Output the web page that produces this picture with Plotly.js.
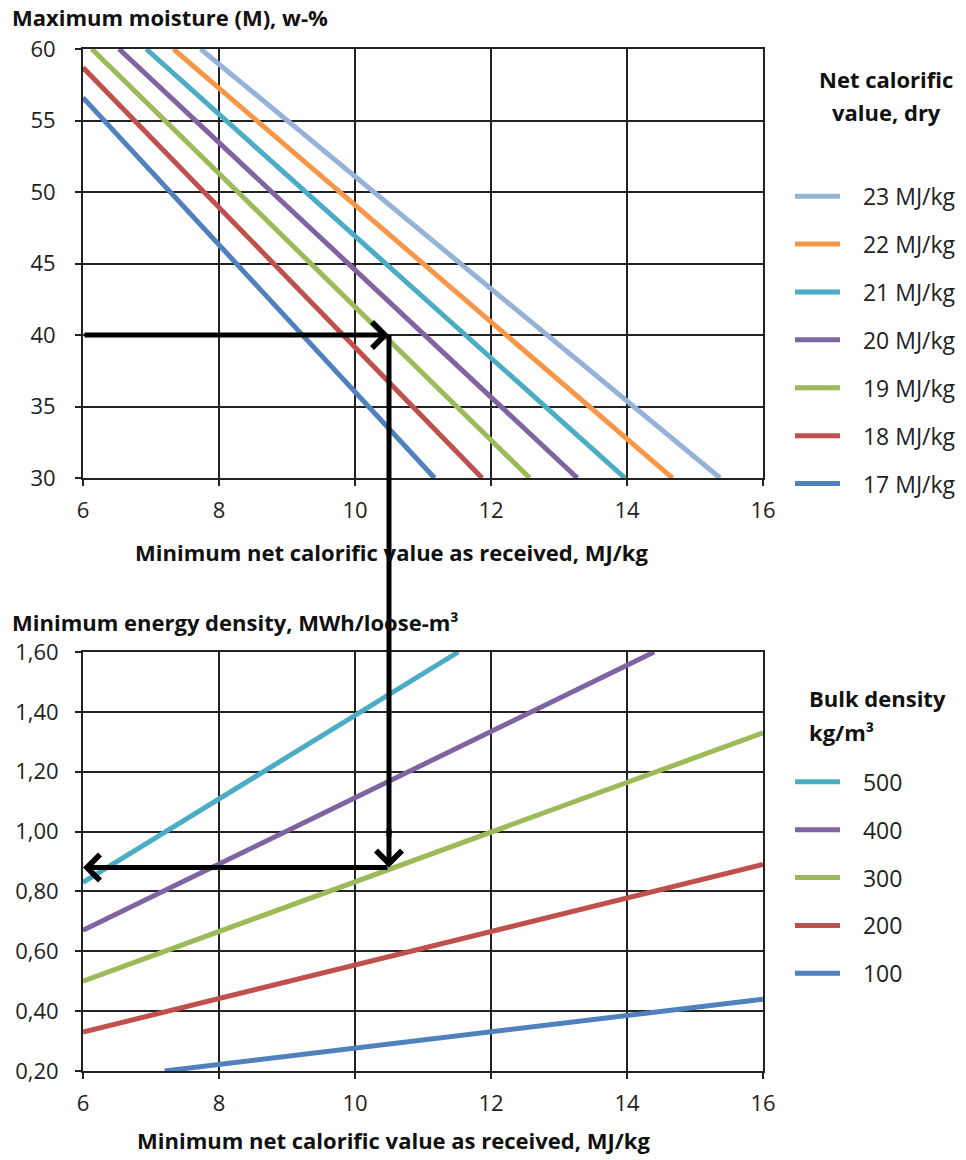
<!DOCTYPE html>
<html>
<head>
<meta charset="utf-8">
<script src="https://cdn.plot.ly/plotly-3.0.1.min.js"></script>
<style>html,body{margin:0;padding:0;background:#fff;}#chart{width:966px;height:1160px;}</style>
</head>
<body>
<div id="chart"></div>
<script>
// ---- Top chart: maximum moisture vs minimum NCV as received ----
const ncvLabels = ['17 MJ/kg', '18 MJ/kg', '19 MJ/kg', '20 MJ/kg', '21 MJ/kg', '22 MJ/kg', '23 MJ/kg'];
const ncvColors = ['#4F81BD', '#C0504D', '#9BBB59', '#8064A2', '#4BACC6', '#F79646', '#95B3D7'];
const topStartX = [6, 6, 6.13, 6.53, 6.93, 7.33, 7.73];
const topStartY = [56.6, 58.7, 60, 60, 60, 60, 60];
const topEndX = [11.17, 11.87, 12.57, 13.27, 13.97, 14.67, 15.37];
const topEndY = [30, 30, 30, 30, 30, 30, 30];

// ---- Bottom chart: minimum energy density vs minimum NCV as received ----
const bdLabels = ['500', '400', '300', '200', '100'];
const bdColors = ['#4BACC6', '#8064A2', '#9BBB59', '#C0504D', '#4F81BD'];
const botStartX = [6, 6, 6, 6, 7.2];
const botStartY = [0.83, 0.67, 0.50, 0.33, 0.20];
const botEndX = [11.52, 14.4, 16, 16, 16];
const botEndY = [1.60, 1.60, 1.33, 0.89, 0.44];

// ---- Example reading (arrows) ----
const exampleNcv = 10.5;
const exampleMoisture = 40;
const exampleDensity = 0.88;
const axisStartX = 6;

const FONT = 'Open Sans, Noto Sans, sans-serif';
const topDomain = [0.5802, 1];
const botDomain = [0, 0.41];
const topRange = [30, 60];
const botRange = [0.2, 1.6];
const PAD = '\u00a0\u00a0\u00a0';

const traces = [];
for (let i = ncvLabels.length - 1; i >= 0; i--) {
  traces.push({
    type: 'scatter', mode: 'lines', name: PAD + ncvLabels[i],
    x: [topStartX[i], topEndX[i]], y: [topStartY[i], topEndY[i]],
    xaxis: 'x', yaxis: 'y',
    line: {color: ncvColors[i], width: 5},
    legend: 'legend', legendgroup: 'n' + i, hoverinfo: 'skip'
  });
}
bdLabels.forEach((name, i) => {
  traces.push({
    type: 'scatter', mode: 'lines', name: PAD + name,
    x: [botStartX[i], botEndX[i]], y: [botStartY[i], botEndY[i]],
    xaxis: 'x2', yaxis: 'y2',
    line: {color: bdColors[i], width: 5},
    legend: 'legend2', legendgroup: 'b' + i, hoverinfo: 'skip'
  });
});

function paperY(v, dom, rng) {
  return dom[0] + (v - rng[0]) / (rng[1] - rng[0]) * (dom[1] - dom[0]);
}

const axisCommon = {
  showgrid: true, gridcolor: '#222', gridwidth: 2,
  showline: true, mirror: true, linecolor: '#222', linewidth: 2,
  ticks: 'outside', ticklen: 6, tickwidth: 2, tickcolor: '#222',
  zeroline: false, tickfont: {family: FONT, size: 22, color: '#222'}
};

const titleFont = {family: FONT, size: 22, color: '#111'};
const legendFont = {family: FONT, size: 23, color: '#222'};

function label(text, xPaper, yPaper, anchor) {
  return {xref: 'paper', yref: 'paper', x: xPaper, y: yPaper, xanchor: anchor, yanchor: 'middle',
          showarrow: false, text: '<b>' + text + '</b>', font: titleFont};
}

const arrowStyle = {text: '', showarrow: true, arrowhead: 4, arrowsize: 1, arrowwidth: 5, arrowcolor: '#000', standoff: 0};

const layout = {
  width: 966, height: 1160,
  margin: {l: 83, r: 203, t: 49, b: 89, autoexpand: false},
  paper_bgcolor: '#fff', plot_bgcolor: '#fff',
  separators: ', ',
  font: {family: FONT},
  xaxis: Object.assign({}, axisCommon, {domain: [0, 1], anchor: 'y', range: [6, 16], dtick: 2, ticklabelstandoff: 6}),
  yaxis: Object.assign({}, axisCommon, {domain: topDomain, anchor: 'x', range: topRange, dtick: 5, ticklabelstandoff: 15}),
  xaxis2: Object.assign({}, axisCommon, {domain: [0, 1], anchor: 'y2', range: [6, 16], dtick: 2, ticklabelstandoff: 6}),
  yaxis2: Object.assign({}, axisCommon, {domain: botDomain, anchor: 'x2', range: botRange, dtick: 0.2, tickformat: '.2f', ticklabelstandoff: 12}),
  legend: {
    x: 1.0397, xanchor: 'left', y: 0.877, yanchor: 'top',
    font: legendFont, traceorder: 'grouped', tracegroupgap: 15, itemwidth: 45,
    bgcolor: 'rgba(0,0,0,0)'
  },
  legend2: {
    x: 1.0397, xanchor: 'left', y: 0.304, yanchor: 'top',
    font: legendFont, traceorder: 'grouped', tracegroupgap: 15, itemwidth: 45,
    bgcolor: 'rgba(0,0,0,0)'
  },
  showlegend: true,
  shapes: [{
    type: 'line', xref: 'x', yref: 'paper',
    x0: exampleNcv, x1: exampleNcv,
    y0: paperY(exampleMoisture, topDomain, topRange),
    y1: paperY(exampleDensity, botDomain, botRange) + 0.03,
    line: {color: '#000', width: 5}, layer: 'above'
  }],
  annotations: [
    label('Maximum moisture (M), w-%', -0.1074, 1.0313, 'left'),
    label('Minimum energy density, MWh/loose-m³', -0.1074, 0.4393, 'left'),
    label('Minimum net calorific value as received, MJ/kg', 0.453, 0.5078, 'center'),
    label('Minimum net calorific value as received, MJ/kg', 0.456, -0.0675, 'center'),
    label('Net calorific', 1.181, 0.9706, 'center'),
    label('value, dry', 1.181, 0.9384, 'center'),
    label('Bulk density', 1.0647, 0.3650, 'left'),
    label('kg/m³', 1.0647, 0.3317, 'left'),
    // arrows
    Object.assign({xref: 'x', yref: 'y', x: exampleNcv, y: exampleMoisture, axref: 'x', ayref: 'y', ax: axisStartX, ay: exampleMoisture}, arrowStyle),
    Object.assign({xref: 'x2', yref: 'y2', x: exampleNcv, y: exampleDensity, ax: 0, ay: -40}, arrowStyle),
    Object.assign({xref: 'x2', yref: 'y2', x: axisStartX, y: exampleDensity, axref: 'x2', ayref: 'y2', ax: exampleNcv, ay: exampleDensity}, arrowStyle)
  ]
};

Plotly.newPlot('chart', traces, layout, {displayModeBar: false, staticPlot: true});
</script>
</body>
</html>
